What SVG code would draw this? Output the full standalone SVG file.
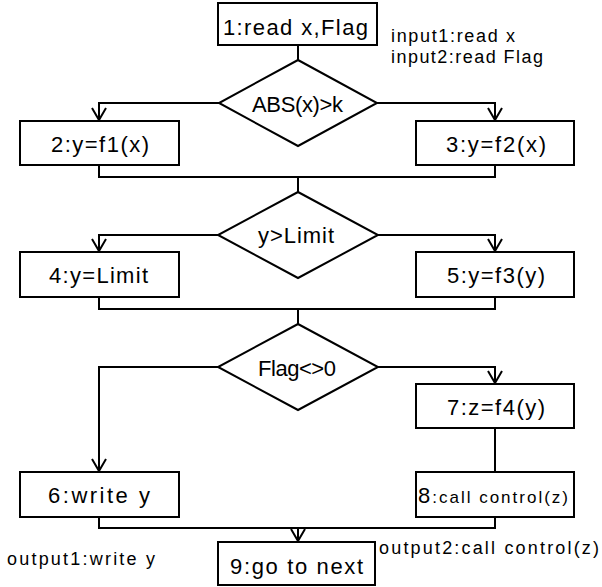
<svg xmlns="http://www.w3.org/2000/svg" width="602" height="587" viewBox="0 0 602 587">
<style>
.box{fill:#fff;stroke:#000;stroke-width:2}
.dia{fill:#fff;stroke:#000;stroke-width:2}
.ln{fill:none;stroke:#000;stroke-width:2}
text{font-family:"Liberation Sans Narrow","Liberation Sans",Arial,sans-serif;fill:#000}
.t{font-size:22px}
.s{font-size:18px}
</style>
<defs>
<marker id="arr" markerUnits="userSpaceOnUse" markerWidth="16" markerHeight="18" viewBox="-14 -9 16 18" refX="0" refY="0" orient="auto" overflow="visible">
<path d="M-12,-7 L0,0 L-12,7" fill="none" stroke="#000" stroke-width="2"/>
</marker>
</defs>
<rect width="602" height="587" fill="#fff"/>
<g id="connectors">
<path class="ln" d="M298 45 V60"/>
<path class="ln" d="M219 103 H99 V120" marker-end="url(#arr)"/>
<path class="ln" d="M377 103 H495 V120" marker-end="url(#arr)"/>
<path class="ln" d="M99 165 V177 H495 V165"/>
<path class="ln" d="M298 177 V192"/>
<path class="ln" d="M218 235 H99 V251" marker-end="url(#arr)"/>
<path class="ln" d="M378 235 H495 V251" marker-end="url(#arr)"/>
<path class="ln" d="M99 297 V309 H495 V297"/>
<path class="ln" d="M298 309 V324"/>
<path class="ln" d="M218 367 H99 V471" marker-end="url(#arr)"/>
<path class="ln" d="M378 367 H495 V383" marker-end="url(#arr)"/>
<path class="ln" d="M495 428 V472"/>
<path class="ln" d="M99 517 V528 H495 V517"/>
<path class="ln" d="M298 528 V541" marker-end="url(#arr)"/>
</g>
<g id="n1"><rect class="box" x="218" y="3" width="159" height="42"/><text class="t" x="223" y="35" textLength="145" lengthAdjust="spacing">1:read x,Flag</text></g>
<g id="note-input"><text class="s" x="391" y="42" textLength="124" lengthAdjust="spacing">input1:read x</text><text class="s" x="391" y="63" textLength="152" lengthAdjust="spacing">input2:read Flag</text></g>
<g id="d1"><polygon class="dia" points="298,60 377,103 298,146 219,103"/><text class="t" x="252" y="112" textLength="91" lengthAdjust="spacing">ABS(x)&gt;k</text></g>
<g id="n2"><rect class="box" x="20" y="121" width="159" height="44"/><text class="t" x="51" y="152" textLength="98" lengthAdjust="spacing">2:y=f1(x)</text></g>
<g id="n3"><rect class="box" x="416" y="121" width="158" height="44"/><text class="t" x="446" y="152" textLength="100" lengthAdjust="spacing">3:y=f2(x)</text></g>
<g id="d2"><polygon class="dia" points="298,192 378,235 298,278 218,235"/><text class="t" x="258" y="243" textLength="76" lengthAdjust="spacing">y&gt;Limit</text></g>
<g id="n4"><rect class="box" x="20" y="252" width="159" height="45"/><text class="t" x="49" y="283" textLength="99" lengthAdjust="spacing">4:y=Limit</text></g>
<g id="n5"><rect class="box" x="416" y="252" width="158" height="45"/><text class="t" x="447" y="283" textLength="98" lengthAdjust="spacing">5:y=f3(y)</text></g>
<g id="d3"><polygon class="dia" points="298,324 378,367 298,410 218,367"/><text class="t" x="258" y="376" textLength="78" lengthAdjust="spacing">Flag&lt;&gt;0</text></g>
<g id="n7"><rect class="box" x="416" y="384" width="158" height="44"/><text class="t" x="447" y="415" textLength="98" lengthAdjust="spacing">7:z=f4(y)</text></g>
<g id="n6"><rect class="box" x="20" y="472" width="159" height="45"/><text class="t" x="48" y="503" textLength="102" lengthAdjust="spacing">6:write y</text></g>
<g id="n8"><rect class="box" x="416" y="472" width="158" height="45"/><text x="418" y="503" textLength="150" lengthAdjust="spacing"><tspan class="t">8</tspan><tspan style="font-size:17px">:call control(z)</tspan></text></g>
<g id="n9"><rect class="box" x="218" y="542" width="157" height="43"/><text class="t" x="230" y="574" textLength="133" lengthAdjust="spacing">9:go to next</text></g>
<g id="note-output1"><text class="s" x="7" y="565" textLength="148" lengthAdjust="spacing">output1:write y</text></g>
<g id="note-output2"><text class="s" x="379" y="554" textLength="220" lengthAdjust="spacing">output2:call control(z)</text></g>
</svg>
